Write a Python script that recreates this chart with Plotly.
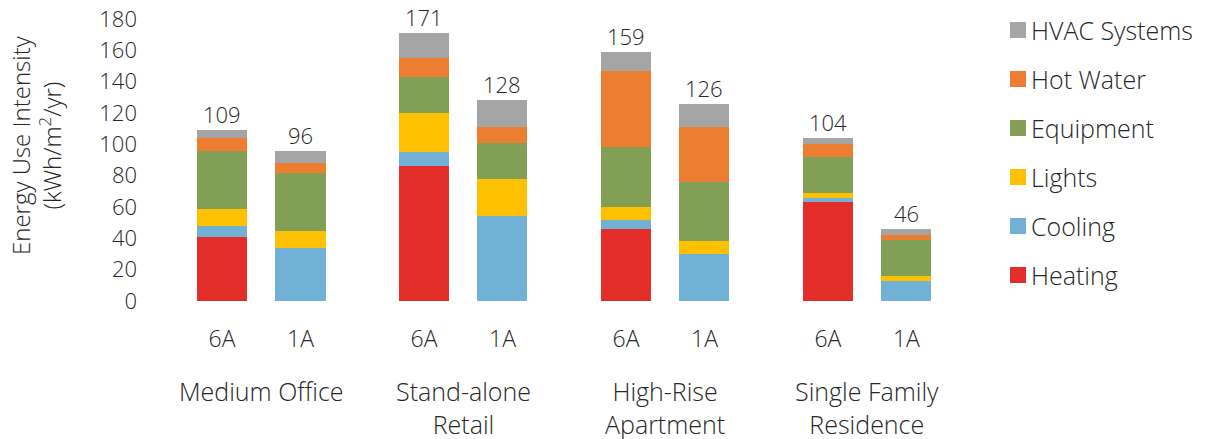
import plotly.graph_objects as go

# Building types (group labels) and climate zones within each group
buildings = ["Medium Office", "Stand-alone<br>Retail", "High-Rise<br>Apartment", "Single Family<br>Residence"]
zones = ["6A", "1A"]

# End-use energy intensity (kWh/m2/yr), order: MO 6A, MO 1A, SR 6A, SR 1A, HR 6A, HR 1A, SFR 6A, SFR 1A
heating = [41, 0, 86, 0, 46, 0, 63, 0]
cooling = [7, 34, 9, 54, 6, 30, 3, 13]
lights = [11, 11, 25, 24, 8, 8, 3, 3]
equipment = [37, 37, 23, 23, 38, 38, 23, 23]
hot_water = [8, 6, 12, 10, 49, 35, 8, 3]
hvac = [5, 8, 16, 17, 12, 15, 4, 4]

series = [
    ("Heating", heating, "#E32D28"),
    ("Cooling", cooling, "#71B1D6"),
    ("Lights", lights, "#FFC000"),
    ("Equipment", equipment, "#82A055"),
    ("Hot Water", hot_water, "#ED7D31"),
    ("HVAC Systems", hvac, "#A5A5A5"),
]

FONT = "Open Sans"
TXT = "#262626"


def font(size):
    return dict(size=size, color=TXT, family=FONT, weight=300)


# page geometry (px) used to place the hand-built legend
W, H = 1206, 439
ML, MR, MT, MB = 150, 250, 19, 138
PW, PH = W - ML - MR, H - MT - MB

# bar x positions: two bars per building, wider gap between buildings
group_pitch = 2.573
xs = [g * group_pitch + z for g in range(len(buildings)) for z in range(len(zones))]
tick_text = [z for _ in buildings for z in zones]
totals = [sum(v) for v in zip(*[s[1] for s in series])]

fig = go.Figure()
for name, vals, color in series:
    fig.add_trace(go.Bar(
        x=xs, y=vals, name=name, width=0.637,
        marker=dict(color=color, line=dict(width=0)),
        showlegend=False,
    ))

# totals above each stack
for x, t in zip(xs, totals):
    fig.add_annotation(
        x=x, y=t, xref="x", yref="y", text=str(t), showarrow=False,
        yanchor="middle", yshift=16, font=font(22),
    )

# building names beneath the zone labels
for g, b in enumerate(buildings):
    fig.add_annotation(
        x=g * group_pitch + 0.5, y=0, xref="x", yref="y",
        text=b, showarrow=False, yanchor="top", yshift=-71, font=font(25),
    )

# y-axis title (two lines)
fig.add_annotation(
    x=0, y=(H - MB - 145) / PH, xref="paper", yref="paper", xshift=-114,
    text="Energy Use Intensity<br>(kWh/m<sup>2</sup>/yr)", textangle=-90,
    showarrow=False, xanchor="center", yanchor="middle", font=font(24),
)

# legend: top entry is the top segment of the stack
for k, (name, _, color) in enumerate(reversed(series)):
    cy = 30 + 49 * k
    fig.add_shape(
        type="rect", xref="paper", yref="paper",
        x0=(1010 - ML) / PW, x1=(1026 - ML) / PW,
        y0=(H - MB - cy - 8) / PH, y1=(H - MB - cy + 8) / PH,
        fillcolor=color, line=dict(width=0),
    )
    fig.add_annotation(
        x=(1029 - ML) / PW, y=(H - MB - cy) / PH, xref="paper", yref="paper",
        text=name, showarrow=False, xanchor="left", yanchor="middle", font=font(25),
    )

fig.update_layout(
    width=W, height=H,
    margin=dict(l=ML, r=MR, t=MT, b=MB, autoexpand=False),
    barmode="stack",
    plot_bgcolor="white", paper_bgcolor="white",
    font=font(20),
    showlegend=False,
    xaxis=dict(range=[-0.917, 9.35], tickvals=xs, ticktext=tick_text,
               showgrid=False, zeroline=False, showline=False, ticks="",
               ticklabelstandoff=22, tickfont=font(23), automargin=False),
    yaxis=dict(range=[0, 180], dtick=20, showgrid=False, zeroline=False, showline=False,
               ticks="", ticklabelstandoff=12, tickfont=font(22), automargin=False),
)

fig.write_html("out.html")
